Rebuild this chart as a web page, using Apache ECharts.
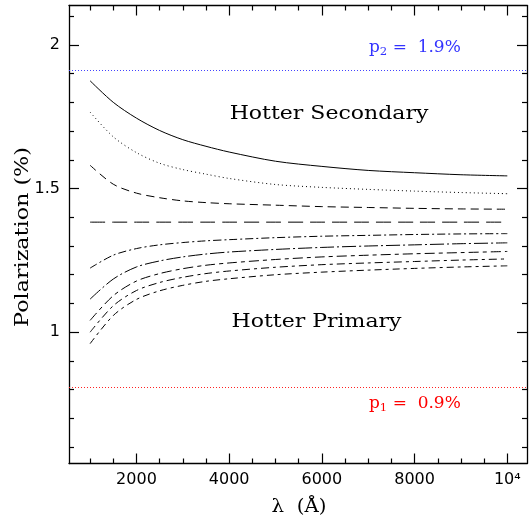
<!DOCTYPE html>
<html><head><meta charset="utf-8">
<script src="https://cdn.jsdelivr.net/npm/echarts@6/dist/echarts.min.js"></script>
<style>html,body{margin:0;padding:0;background:#fff}#c{width:529px;height:520px}</style>
</head><body><div id="c"></div>
<script>
const lambda = [1000,1500,2000,2500,3000,3500,4000,5000,6000,7000,8000,9000,10000];
const curveSolid   = [1.875,1.800,1.745,1.702,1.670,1.647,1.627,1.595,1.577,1.563,1.555,1.548,1.544];
const curveDotted  = [1.766,1.680,1.625,1.588,1.566,1.550,1.535,1.514,1.504,1.497,1.491,1.486,1.482];
const curveDashed  = [1.581,1.515,1.484,1.468,1.457,1.451,1.447,1.442,1.437,1.434,1.431,1.429,1.428];
const curveLongDash= [1.383,1.383,1.383,1.383,1.383,1.383,1.383,1.383,1.383,1.383,1.383,1.383,1.383];
const curveDashDot = [1.223,1.268,1.291,1.304,1.312,1.318,1.322,1.329,1.334,1.337,1.340,1.342,1.343];
const curveLDashDot= [1.115,1.185,1.227,1.248,1.262,1.272,1.279,1.288,1.295,1.300,1.304,1.308,1.311];
const curveC3      = [1.041,1.127,1.178,1.204,1.221,1.233,1.241,1.253,1.262,1.268,1.273,1.277,1.281];
const curveC4      = [1.000,1.092,1.145,1.173,1.191,1.204,1.213,1.226,1.235,1.241,1.246,1.251,1.255];
const curveC5      = [0.960,1.058,1.114,1.144,1.163,1.177,1.186,1.200,1.209,1.216,1.222,1.227,1.231];
const p2 = 1.913, p1 = 0.814;
const xMajorTicks = [2000,4000,6000,8000,10000];
const xMinorTicks = [1000,1500,2500,3000,3500,4500,5000,5500,6500,7000,7500,8500,9000,9500];
const yMajorTicks = [1,1.5,2];
const yMinorTicks = [0.6,0.7,0.8,0.9,1.1,1.2,1.3,1.4,1.6,1.7,1.8,1.9,2.1];

const XMIN = 545, XMAX = 10425, YMIN = 0.543, YMAX = 2.137;
const numFont = 'DejaVu Sans';
const serif = 'DejaVu Serif';

function xAxisDef(pos, ticks, len, labels, showLine) {
  return {
    type:'value', position:pos, min:XMIN, max:XMAX,
    axisLine:{show:showLine, onZero:false, lineStyle:{color:'#000', width:1.3}},
    splitLine:{show:false},
    axisTick:{show:true, inside:true, length:len, customValues:ticks, lineStyle:{color:'#000', width:1.2}},
    axisLabel:{show:labels, customValues:ticks, margin:8, color:'#000', fontFamily:numFont, fontSize:16,
      formatter: v => v === 10000 ? '10⁴' : String(v)}
  };
}
function yAxisDef(pos, ticks, len, labels, showLine) {
  return {
    type:'value', position:pos, min:YMIN, max:YMAX,
    axisLine:{show:showLine, onZero:false, lineStyle:{color:'#000', width:1.3}},
    splitLine:{show:false},
    axisTick:{show:true, inside:true, length:len, customValues:ticks, lineStyle:{color:'#000', width:1.2}},
    axisLabel:{show:labels, customValues:ticks, margin:9, color:'#000', fontFamily:numFont, fontSize:16,
      formatter: v => String(v)}
  };
}

function mk(data, type) {
  return {
    type:'line', xAxisIndex:0, yAxisIndex:0, data: lambda.map((x,i)=>[x,data[i]]),
    smooth:0.3, symbol:'none', silent:true,
    lineStyle:{color:'#000', width:1, type:type}
  };
}
function pLabel(sub, val, color, x, y) {
  return {type:'text', x:x, y:y, scaleX:1.06, style:{text:'{p|p}{s|' + sub + '}{t| =  ' + val + '}', x:0, y:0, verticalAlign:'middle', fill:color,
    rich:{p:{fontSize:16, fontFamily:serif, fill:color}, s:{fontSize:11, fontFamily:serif, fill:color, padding:[8,0,0,0]}, t:{fontSize:16, fontFamily:serif, fill:color}}}};
}

const chart = echarts.init(document.getElementById('c'), null, {renderer:'canvas'});
chart.setOption({
  animation:false,
  backgroundColor:'#fff',
  grid:{left:69, right:2, top:5.5, bottom:56.5, containLabel:false},
  xAxis:[
    xAxisDef('bottom', xMajorTicks, 10, true, true),
    xAxisDef('bottom', xMinorTicks, 5, false, false),
    xAxisDef('top', xMajorTicks, 10, false, true),
    xAxisDef('top', xMinorTicks, 5, false, false)
  ],
  yAxis:[
    yAxisDef('left', yMajorTicks, 10, true, true),
    yAxisDef('left', yMinorTicks, 5, false, false),
    yAxisDef('right', yMajorTicks, 10, false, true),
    yAxisDef('right', yMinorTicks, 5, false, false)
  ],
  series:[
    Object.assign(mk(curveSolid, 'solid'), {
      markLine:{silent:true, symbol:'none', label:{show:false},
        data:[
          {yAxis:p2, lineStyle:{color:'#4444ff', type:[1,2], width:1.2}},
          {yAxis:p1, lineStyle:{color:'#ff2222', type:[1,2], width:1.2}}
        ]}
    }),
    mk(curveDotted, [1,3]),
    mk(curveDashed, [8,5]),
    mk(curveLongDash, [15,7]),
    mk(curveDashDot, [8,3,2,3]),
    mk(curveLDashDot, [14,3,2,3]),
    mk(curveC3, [10,4,4,4]),
    mk(curveC4, [8,4,3,4]),
    mk(curveC5, [7,4,3,4])
  ],
  graphic:[
    {type:'text', x:329, y:114, scaleX:1.19, style:{text:'Hotter Secondary', x:0, y:0, align:'center', verticalAlign:'middle',
      font:'18.5px "DejaVu Serif"', fill:'#000'}},
    {type:'text', x:316.5, y:322, scaleX:1.19, style:{text:'Hotter Primary', x:0, y:0, align:'center', verticalAlign:'middle',
      font:'18.5px "DejaVu Serif"', fill:'#000'}},
    pLabel('2', '1.9%', '#3333ff', 369, 48),
    pLabel('1', '0.9%', '#ff0000', 369, 404),
    {type:'text', x:299, y:507, scaleX:1.04, style:{text:'λ  (Å)', x:0, y:0, align:'center', verticalAlign:'middle',
      font:'19px "DejaVu Serif"', fill:'#000'}},
    {type:'text', rotation:Math.PI/2, x:23, y:237, scaleX:1.17, style:{text:'Polarization (%)', x:0, y:0, align:'center', verticalAlign:'middle',
      font:'19px "DejaVu Serif"', fill:'#000'}}
  ]
});
</script></body></html>
